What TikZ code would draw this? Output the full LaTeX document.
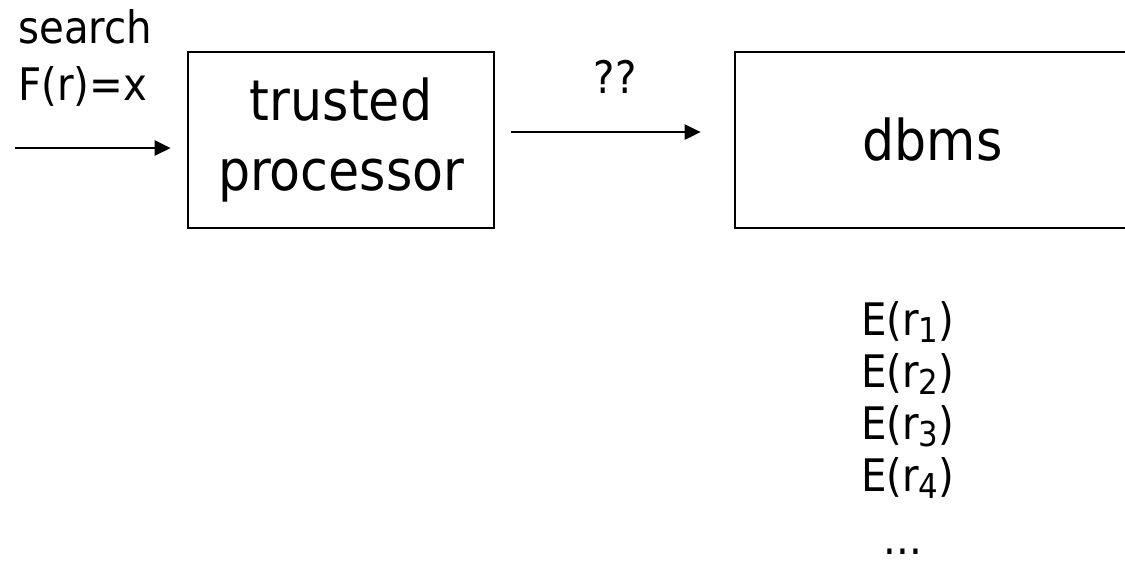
\documentclass[tikz,border=0pt]{standalone}
\usepackage{fontspec}
\setmainfont{DejaVu Sans Condensed}
\usepackage{tikz}
\usetikzlibrary{arrows.meta}

\newcommand{\recsub}[1]{\raisebox{-4.5pt}{\fontsize{19.5}{20}\selectfont #1}}

\tikzset{
  procbox/.style={draw,line width=0.055cm,inner sep=0pt},
  arr/.style={-{Triangle[length=0.32cm,width=0.3cm]},line width=0.055cm},
  big/.style={font=\fontsize{32}{40}\selectfont},
  small/.style={font=\fontsize{25.5}{29}\selectfont}
}

\begin{document}
\begin{tikzpicture}[x=0.02cm,y=-0.02cm]
          \clip (0,0) rectangle (1125,566);
          \useasboundingbox (0,0) rectangle (1125,566);
          % boxes
          \node[procbox,big,align=center,minimum width=6.12cm,minimum height=3.52cm] (tp) at (341,140) {trusted\\processor};
          \node[procbox,big,minimum width=7.9cm,minimum height=3.52cm] (db) at (932.5,140) {dbms};
          % query coming in
          \node[small,anchor=base west] (srch) at (12,43) {search};
          \node[small,anchor=base west] (qry) at (12,100) {F(r)=x};
          \coordinate (src) at (15,148);
          \draw[arr,shorten >=0.32cm] (src) -- (tp.west |- src);
          % what goes to the dbms
          \draw[arr,shorten <=0.32cm,shorten >=0.66cm] ([yshift=0.16cm]tp.east) -- ([yshift=0.16cm]db.west);
          \node[small] (qq) at (615,77) {??};
          % encrypted records
          \foreach \i in {1,...,4}
            \node[small,anchor=base west] (e\i) at (855,{335+52*(\i-1)}) {E(r\recsub{\i})};
          \node[small,anchor=base,inner sep=0pt] (dots) at (903,554) {...};
        \end{tikzpicture}
\end{document}
